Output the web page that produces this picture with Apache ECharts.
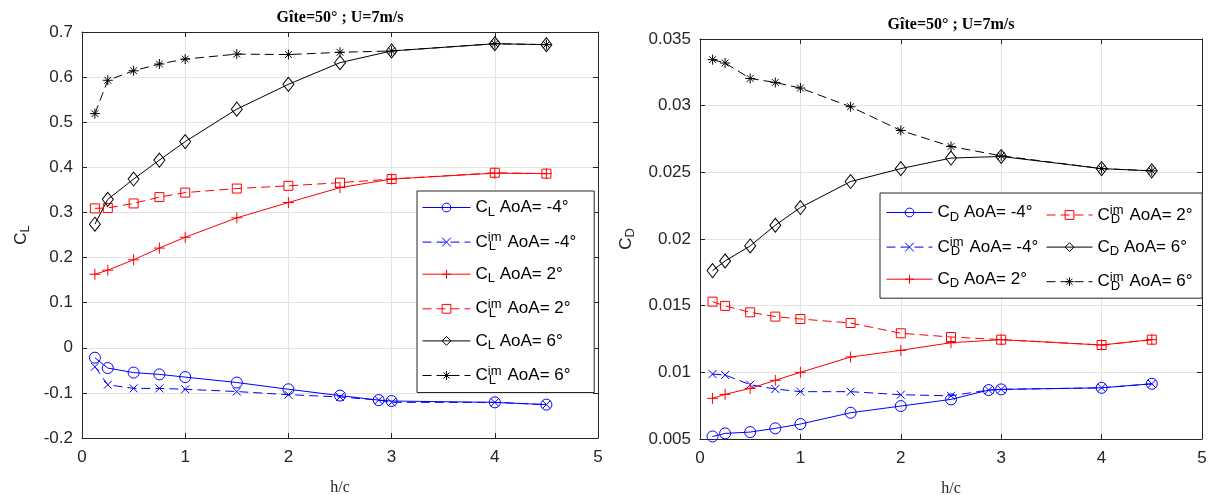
<!DOCTYPE html>
<html><head><meta charset="utf-8">
<script src="https://cdn.jsdelivr.net/npm/echarts@6/dist/echarts.min.js"></script>
<style>html,body{margin:0;padding:0;background:#fff}#c{width:1215px;height:495px}</style>
</head><body><div id="c"></div>
<script>
// ---------- data ----------
const chartTitle = 'Gîte=50° ; U=7m/s';
const xLabel = 'h/c';
const xMain = [0.125, 0.25, 0.5, 0.75, 1, 1.5, 2, 2.5, 3, 4, 4.5];
const xNeg4 = [0.125, 0.25, 0.5, 0.75, 1, 1.5, 2, 2.5, 2.875, 3, 4, 4.5];
const xTicks = [0, 1, 2, 3, 4, 5];
const clTicks = [-0.2, -0.1, 0, 0.1, 0.2, 0.3, 0.4, 0.5, 0.6, 0.7];
const cdTicks = [0.005, 0.01, 0.015, 0.02, 0.025, 0.03, 0.035];

const CL_m4   = [-0.022, -0.045, -0.055, -0.059, -0.065, -0.077, -0.092, -0.106, -0.116, -0.118, -0.121, -0.126];
const CLim_m4 = [-0.042, -0.082, -0.090, -0.090, -0.092, -0.097, -0.104, -0.109, -0.116, -0.121, -0.121, -0.126];
const CL_2    = [0.163, 0.172, 0.195, 0.221, 0.245, 0.288, 0.322, 0.355, 0.374, 0.387, 0.386];
const CLim_2  = [0.309, 0.310, 0.320, 0.334, 0.344, 0.353, 0.359, 0.366, 0.374, 0.388, 0.386];
const CL_6    = [0.274, 0.329, 0.374, 0.416, 0.457, 0.529, 0.584, 0.632, 0.658, 0.674, 0.672];
const CLim_6  = [0.519, 0.593, 0.614, 0.629, 0.640, 0.651, 0.650, 0.655, 0.658, 0.674, 0.672];

const CD_m4   = [0.00519, 0.00542, 0.00552, 0.0058, 0.00612, 0.00697, 0.00747, 0.00797, 0.00867, 0.00872, 0.00884, 0.00914];
const CDim_m4 = [0.00987, 0.0098, 0.00907, 0.00875, 0.00855, 0.00855, 0.00832, 0.00824, 0.00867, 0.00872, 0.00884, 0.00914];
const CD_2    = [0.00805, 0.00835, 0.0088, 0.0094, 0.0100, 0.01115, 0.01165, 0.01222, 0.01245, 0.01205, 0.01245];
const CDim_2  = [0.0153, 0.01498, 0.0145, 0.01418, 0.0140, 0.0137, 0.01293, 0.01265, 0.01245, 0.01205, 0.01245];
const CD_6    = [0.01763, 0.01835, 0.01948, 0.02103, 0.02236, 0.02431, 0.02528, 0.02607, 0.02619, 0.02528, 0.02511];
const CDim_6  = [0.03345, 0.0332, 0.03204, 0.03174, 0.03132, 0.02992, 0.02814, 0.02694, 0.02624, 0.02528, 0.02511];

// legend label pieces: [coef, isIm, AoA text]
const legendNames = {
  'CL -4':   ['L', false, 'AoA= -4°'],
  'CLim -4': ['L', true,  'AoA= -4°'],
  'CL 2':    ['L', false, 'AoA= 2°'],
  'CLim 2':  ['L', true,  'AoA= 2°'],
  'CL 6':    ['L', false, 'AoA= 6°'],
  'CLim 6':  ['L', true,  'AoA= 6°'],
  'CD -4':   ['D', false, 'AoA= -4°'],
  'CDim -4': ['D', true,  'AoA= -4°'],
  'CD 2':    ['D', false, 'AoA= 2°'],
  'CDim 2':  ['D', true,  'AoA= 2°'],
  'CD 6':    ['D', false, 'AoA= 6°'],
  'CDim 6':  ['D', true,  'AoA= 6°']
};

// ---------- styling ----------
const F = "'Liberation Sans', Arial, Helvetica, sans-serif";
const FS = "'Liberation Serif', 'Times New Roman', serif";
const AX = '#262626';
const BLUE = '#0000ff', RED = '#ff0000', BLACK = '#000000';
const DASH = [9, 5];
const SYM = {
  circle: 'circle',
  cross: 'path://M0,0L10,10M10,0L0,10',
  plus: 'path://M5,0L5,10M0,5L10,5',
  square: 'rect',
  diamond: 'diamond',
  star: 'path://M5,0L5,10M0,5L10,5M1.6,1.6L8.4,8.4M8.4,1.6L1.6,8.4'
};

const rich = {
  c:    {fontSize: 17, lineHeight: 22, fontFamily: F, color: '#000'},
  t:    {fontSize: 17, lineHeight: 22, fontFamily: F, color: '#000'},
  sub:  {fontSize: 13, lineHeight: 13, fontFamily: F, color: '#000', verticalAlign: 'bottom'},
  sup:  {fontSize: 13, lineHeight: 13, fontFamily: F, color: '#000', verticalAlign: 'top', width: 1},
  subw: {fontSize: 13, lineHeight: 13, fontFamily: F, color: '#000', verticalAlign: 'bottom', width: 14}
};
function legendFmt(name) {
  const p = legendNames[name];
  if (p[1]) return '{c|C}{sup|im}{subw|' + p[0] + '}{t| ' + p[2] + '}';
  return '{c|C}{sub|' + p[0] + '}{t| ' + p[2] + '}';
}
const fmtNum = v => String(Math.round(v * 100000) / 100000);

function mk(name, xs, ys, color, dashed, sym, size, ax) {
  return {
    type: 'line', name: name, xAxisIndex: ax, yAxisIndex: ax,
    data: xs.map((x, i) => [x, ys[i]]),
    symbol: SYM[sym], symbolSize: size, showSymbol: true, showAllSymbol: true,
    lineStyle: {color: color, width: 1, type: dashed ? DASH : 'solid'},
    itemStyle: {color: 'rgba(255,255,255,0)', borderColor: color, borderWidth: 1},
    emphasis: {disabled: true}, animation: false, clip: false
  };
}

function xAx(grid, bottom, ticks) {
  const a = {
    type: 'value', gridIndex: grid, position: bottom ? 'bottom' : 'top',
    min: ticks[0], max: ticks[ticks.length - 1], interval: ticks[1] - ticks[0],
    axisLine: {show: true, onZero: false, lineStyle: {color: AX, width: 1}},
    axisTick: {show: true, inside: true, length: 5, lineStyle: {color: AX}},
    axisLabel: {show: bottom, fontFamily: F, fontSize: 17, color: AX, margin: 11, formatter: fmtNum},
    splitLine: {show: bottom, lineStyle: {color: '#e3e3e3', width: 1}}
  };
  if (bottom) {
    a.name = xLabel; a.nameLocation = 'middle'; a.nameGap = 42;
    a.nameTextStyle = {fontFamily: FS, fontSize: 16, color: AX};
  } else {
    a.name = chartTitle; a.nameLocation = 'middle'; a.nameGap = 6;
    a.nameTextStyle = {fontFamily: FS, fontSize: 16, fontWeight: 'bold', color: '#000'};
  }
  return a;
}
function yAx(grid, left, ticks, coef, gap) {
  const a = {
    type: 'value', gridIndex: grid, position: left ? 'left' : 'right',
    min: ticks[0], max: ticks[ticks.length - 1], interval: Math.round((ticks[1] - ticks[0]) * 1e6) / 1e6,
    axisLine: {show: true, onZero: false, lineStyle: {color: AX, width: 1}},
    axisTick: {show: true, inside: true, length: 5, lineStyle: {color: AX}},
    axisLabel: {show: left, fontFamily: F, fontSize: 17, color: AX, margin: 9, formatter: fmtNum},
    splitLine: {show: left, lineStyle: {color: '#e3e3e3', width: 1}}
  };
  if (left) {
    a.name = '{c|C}{sub|' + coef + '}'; a.nameLocation = 'middle'; a.nameGap = gap;
    a.nameTextStyle = {fontFamily: F, fontSize: 17, color: AX, rich: {
      c: {fontSize: 17, lineHeight: 22, fontFamily: F, color: AX},
      sub: {fontSize: 13, lineHeight: 13, fontFamily: F, color: AX, verticalAlign: 'bottom'}
    }};
  }
  return a;
}

const legendBase = {
  orient: 'vertical', itemWidth: 48, itemHeight: 11, itemGap: 12.6,
  formatter: legendFmt, textStyle: {fontFamily: F, fontSize: 17, color: '#000', rich: rich},
  itemStyle: {borderWidth: 1}, lineStyle: {width: 1}, selectedMode: false
};

const option = {
  backgroundColor: '#fff',
  animation: false,
  grid: [
    {left: 82, right: 617, top: 32, bottom: 57, outerBoundsMode: 'none', containLabel: false},
    {left: 700, right: 13, top: 39, bottom: 56, outerBoundsMode: 'none', containLabel: false}
  ],
  xAxis: [xAx(0, true, xTicks), xAx(1, true, xTicks), xAx(0, false, xTicks), xAx(1, false, xTicks)],
  yAxis: [yAx(0, true, clTicks, 'L', 50), yAx(1, true, cdTicks, 'D', 63), yAx(0, false, clTicks), yAx(1, false, cdTicks)],
  legend: [
    Object.assign({}, legendBase, {
      left: 417, top: 191, padding: [8, 18, 6, 5],
      backgroundColor: '#fff', borderColor: AX, borderWidth: 1,
      data: ['CL -4', 'CLim -4', 'CL 2', 'CLim 2', 'CL 6', 'CLim 6']
    }),
    Object.assign({}, legendBase, {
      left: 880, top: 193, padding: [11, 164, 8, 6], itemWidth: 46,
      backgroundColor: '#fff', borderColor: AX, borderWidth: 1, z: 10,
      data: ['CD -4', 'CDim -4', 'CD 2']
    }),
    Object.assign({}, legendBase, {
      left: 1046, top: 193, padding: [11, 0, 8, 0], itemWidth: 46, z: 11,
      data: ['CDim 2', 'CD 6', 'CDim 6']
    })
  ],
  series: [
    mk('CL -4',   xNeg4, CL_m4,   BLUE,  false, 'circle', 11, 0),
    mk('CLim -4', xNeg4, CLim_m4, BLUE,  true,  'cross',  8, 0),
    mk('CL 2',    xMain, CL_2,    RED,   false, 'plus',   11, 0),
    mk('CLim 2',  xMain, CLim_2,  RED,   true,  'square', 9, 0),
    mk('CL 6',    xMain, CL_6,    BLACK, false, 'diamond', [11, 14], 0),
    mk('CLim 6',  xMain, CLim_6,  BLACK, true,  'star',   10, 0),
    mk('CD -4',   xNeg4, CD_m4,   BLUE,  false, 'circle', 11, 1),
    mk('CDim -4', xNeg4, CDim_m4, BLUE,  true,  'cross',  8, 1),
    mk('CD 2',    xMain, CD_2,    RED,   false, 'plus',   11, 1),
    mk('CDim 2',  xMain, CDim_2,  RED,   true,  'square', 9, 1),
    mk('CD 6',    xMain, CD_6,    BLACK, false, 'diamond', [11, 14], 1),
    mk('CDim 6',  xMain, CDim_6,  BLACK, true,  'star',   10, 1)
  ]
};

const chart = echarts.init(document.getElementById('c'), null, {renderer: 'canvas'});
chart.setOption(option);
</script>
</body></html>
